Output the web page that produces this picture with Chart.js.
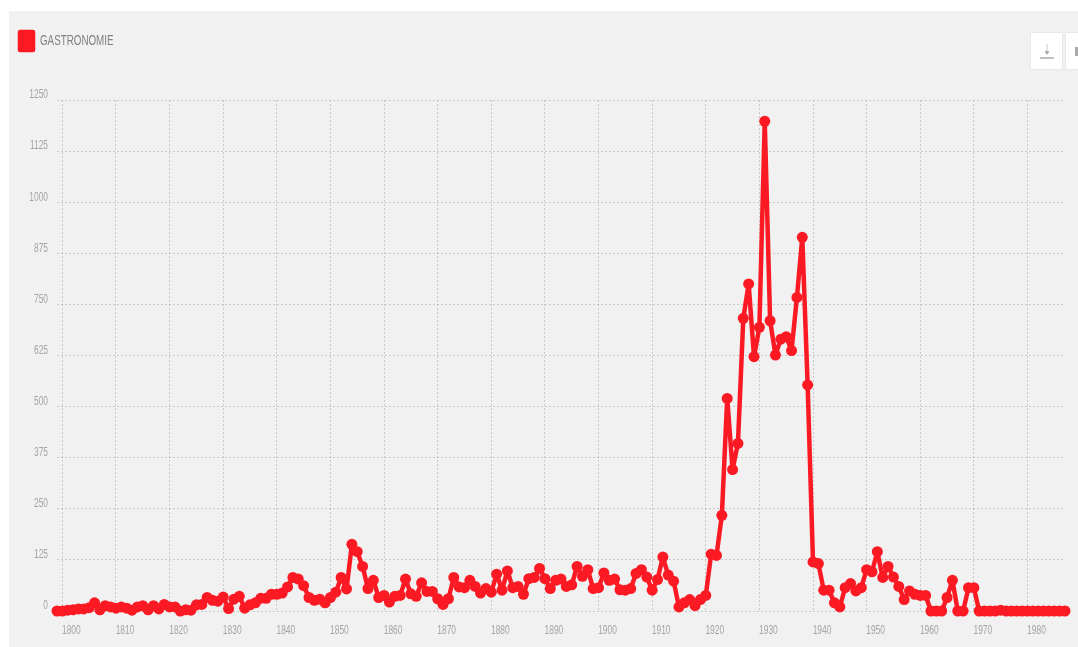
<!DOCTYPE html>
<html>
<head>
<meta charset="utf-8">
<title>Gastronomie</title>
<script src="https://cdn.jsdelivr.net/npm/chart.js@4"></script>
<style>
html, body { margin: 0; padding: 0; background: #fff; overflow: hidden; }
#panel { position: absolute; left: 9px; top: 11px; width: 1069px; height: 636px; background: #f1f1f1; }
#chart { position: absolute; left: 0; top: 0; filter: blur(0.55px); }
.btn { position: absolute; top: 32px; height: 38px; background: #fff; border: 1px solid #e8e8e8; box-sizing: border-box; filter: blur(0.7px); }
#save { left: 1030px; width: 33px; }
#other { left: 1065px; width: 20px; }
#save svg { position: absolute; left: 8px; top: 9px; }
#other i { position: absolute; left: 9px; top: 14px; width: 5px; height: 9px; background: #aaa; }
</style>
</head>
<body>
<div id="panel"></div>
<canvas id="chart" width="1078" height="647"></canvas>
<div class="btn" id="save">
  <svg width="16" height="20" viewBox="0 0 16 20">
    <path d="M8 2V9" stroke="#ccc" stroke-width="1" />
    <path d="M5.5 9H10.5L8 13Z" fill="#aaa" />
    <path d="M1 16H15" stroke="#aaa" stroke-width="1.5" />
  </svg>
</div>
<div class="btn" id="other"><i></i></div>
<script>
const seriesName = 'GASTRONOMIE';
const years = [1799,
  1800,1801,1802,1803,1804,1805,1806,1807,1808,1809,
  1810,1811,1812,1813,1814,1815,1816,1817,1818,1819,
  1820,1821,1822,1823,1824,1825,1826,1827,1828,1829,
  1830,1831,1832,1833,1834,1835,1836,1837,1838,1839,
  1840,1841,1842,1843,1844,1845,1846,1847,1848,1849,
  1850,1851,1852,1853,1854,1855,1856,1857,1858,1859,
  1860,1861,1862,1863,1864,1865,1866,1867,1868,1869,
  1870,1871,1872,1873,1874,1875,1876,1877,1878,1879,
  1880,1881,1882,1883,1884,1885,1886,1887,1888,1889,
  1890,1891,1892,1893,1894,1895,1896,1897,1898,1899,
  1900,1901,1902,1903,1904,1905,1906,1907,1908,1909,
  1910,1911,1912,1913,1914,1915,1916,1917,1918,1919,
  1920,1921,1922,1923,1924,1925,1926,1927,1928,1929,
  1930,1931,1932,1933,1934,1935,1936,1937,1938,1939,
  1940,1941,1942,1943,1944,1945,1946,1947,1948,1949,
  1950,1951,1952,1953,1954,1955,1956,1957,1958,1959,
  1960,1961,1962,1963,1964,1965,1966,1967,1968,1969,
  1970,1971,1972,1973,1974,1975,1976,1977,1978,1979,
  1980,1981,1982,1983,1984,1985,1986,1987];
const counts = [0,
  0,2,3,5,5,8,20,3,13,10,
  7,10,7,2,10,13,3,13,5,16,
  10,10,0,3,2,15,16,33,26,24,
  34,6,29,36,7,15,20,31,31,41,
  41,44,59,82,78,62,33,26,29,20,
  33,46,82,54,163,145,109,55,75,33,
  38,22,36,38,78,42,36,69,48,48,
  30,16,30,82,59,57,75,60,44,55,
  46,90,51,98,57,60,41,79,82,104,
  79,55,75,78,60,64,109,85,101,55,
  57,93,75,78,52,51,55,92,101,83,
  51,77,132,88,73,10,20,28,13,28,
  38,139,136,234,520,346,410,716,800,622,
  694,1198,710,626,665,671,637,767,914,553,
  120,116,51,51,20,10,57,67,49,57,
  101,96,145,82,109,83,60,28,49,41,
  38,38,0,0,0,33,75,0,0,57,
  57,0,0,0,0,2,0,0,0,0,
  0,0,0,0,0,0,0,0];
const yTicks = [0,125,250,375,500,625,750,875,1000,1125,1250];

const axisFont = { family: '"Liberation Sans", sans-serif', size: 12 };
const gridColor = 'rgba(150,150,150,0.45)';

const legendSpace = {
  id: 'legendSpace',
  beforeInit(chart) {
    const fit = chart.legend.fit;
    chart.legend.fit = function () {
      fit.call(this);
      this.height += 40;
    };
  }
};

// the original uses a narrow webfont, squeeze the text instead
const ctx = document.getElementById('chart').getContext('2d');
const plainFillText = ctx.fillText.bind(ctx);
ctx.fillText = function (text, x, y) {
  ctx.save();
  ctx.translate(x, y);
  ctx.scale(0.7, 1);
  plainFillText(text, 0, 0);
  ctx.restore();
};

new Chart(ctx, {
  type: 'line',
  data: {
    labels: years,
    datasets: [{
      label: seriesName,
      data: counts,
      borderColor: '#fb1a24',
      backgroundColor: '#fb1a24',
      borderWidth: 4.5,
      borderJoinStyle: 'round',
      pointRadius: 5.5,
      pointBorderWidth: 0,
      pointBackgroundColor: '#fb1a24',
      tension: 0,
      clip: false
    }]
  },
  options: {
    responsive: false,
    animation: false,
    layout: { padding: { left: 8, right: 13, top: 20, bottom: 0 } },
    plugins: {
      tooltip: { enabled: false },
      legend: {
        position: 'top',
        align: 'start',
        labels: {
          boxWidth: 13,
          boxHeight: 18,
          padding: 12,
          color: '#808080',
          font: { family: axisFont.family, size: 14 }
        }
      }
    },
    scales: {
      x: {
        type: 'category',
        afterFit(scale) { scale.height = 36; },
        grid: { color: gridColor, drawTicks: false },
        border: { display: false, dash: [2, 2] },
        ticks: {
          autoSkip: false,
          maxRotation: 0,
          minRotation: 0,
          padding: 12,
          labelOffset: 9,
          color: '#a4a4a4',
          font: axisFont,
          callback(value) {
            const year = years[value];
            return year % 10 === 0 ? String(year) : null;
          }
        }
      },
      y: {
        min: 0,
        max: 1250,
        afterBuildTicks(scale) { scale.ticks = yTicks.map(v => ({ value: v })); },
        afterFit(scale) { scale.width = 49; },
        grid: { color: gridColor, drawTicks: false },
        border: { display: false, dash: [2, 2] },
        ticks: {
          padding: 9,
          labelOffset: -5,
          color: '#a4a4a4',
          font: axisFont,
          callback(value) { return String(value); }
        }
      }
    }
  },
  plugins: [legendSpace]
});
</script>
</body>
</html>
